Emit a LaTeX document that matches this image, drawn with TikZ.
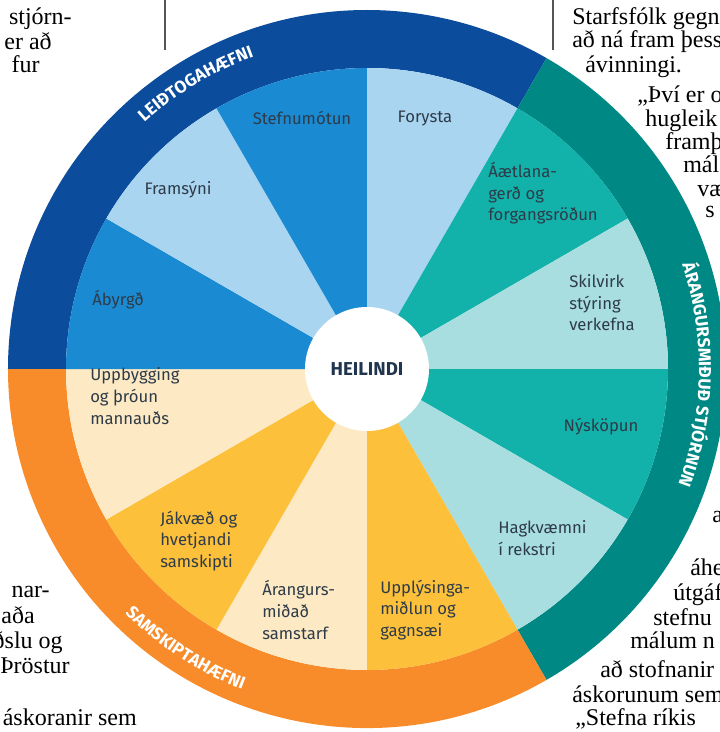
\documentclass[tikz,border=0pt]{standalone}
\usepackage{fontspec}
\setmainfont{Liberation Serif}
\newfontfamily\wheelfont{Fira Sans}
\usetikzlibrary{decorations.text}

\definecolor{ringblue}{HTML}{0B4C9C}
\definecolor{midblue}{HTML}{1A8AD2}
\definecolor{paleblue}{HTML}{AAD5F1}
\definecolor{ringteal}{HTML}{008884}
\definecolor{midteal}{HTML}{12B1AA}
\definecolor{paleteal}{HTML}{A8DEDF}
\definecolor{ringorange}{HTML}{F88B2A}
\definecolor{amber}{HTML}{FCC03B}
\definecolor{cream}{HTML}{FDEAC4}
\definecolor{labelink}{HTML}{2E3B48}
\definecolor{hubink}{HTML}{22354F}
\definecolor{rulegray}{HTML}{555555}

\newcommand\labelfont{\wheelfont\fontsize{12.5}{16.2}\selectfont}
\newcommand\ringfont{\wheelfont\bfseries\fontsize{13}{14}\selectfont\color{white}}
\newcommand\columnfont{\fontsize{18}{17.6}\selectfont}

\tikzset{x=0.75pt,y=0.75pt}
\tikzset{wedgelabel/.style={font=\labelfont, text=labelink, align=left, inner sep=0pt}}
\tikzset{column/.style={font=\columnfont, inner sep=0pt}}
\tikzset{ringlabel/.style={decorate, decoration={text along path, text align=center, text={#1}}}}

\begin{document}
\begin{tikzpicture}
    %%%% page frame
    \useasboundingbox (-367,-363) rectangle (353,369);
    \clip (-367,-363) rectangle (353,369);

    %%%% outer ring
    \fill[ringblue] (180:359) arc[start angle=180, end angle=60, radius=359] -- (60:301) arc[start angle=60, end angle=180, radius=301] -- cycle;
    \fill[ringteal] (60:359) arc[start angle=60, end angle=-60, radius=359] -- (-60:301) arc[start angle=-60, end angle=60, radius=301] -- cycle;
    \fill[ringorange] (-60:359) arc[start angle=-60, end angle=-180, radius=359] -- (-180:301) arc[start angle=-180, end angle=-60, radius=301] -- cycle;

    %%%% wedges
    \foreach \a/\col in {90/paleblue, 60/midteal, 30/paleteal, 0/midteal, -30/paleteal, -60/amber,
                         -90/cream, -120/amber, -150/cream, 180/midblue, 150/paleblue, 120/midblue}
      \fill[\col] (0,0) -- (\a:301) arc[start angle=\a, delta angle=-30, radius=301] -- cycle;

    %%%% hub
    \node[circle, fill=white, minimum size=93pt, inner sep=0pt, text=hubink,
          font=\wheelfont\bfseries\fontsize{14}{16}\selectfont] (hub) at (0,0) {HEILINDI};

    %%%% wedge labels
    \node[wedgelabel] (stefna) at (-65,251) {Stefnumótun};
    \node[wedgelabel] (forysta) at (58,250) {Forysta};
    \node[wedgelabel] (framsyni) at (-189,179) {Framsýni};
    \node[wedgelabel, anchor=west] (aetlun) at (121,175.5) {Áætlana-\\gerð og\\forgangsröðun};
    \node[wedgelabel, anchor=west] (styring) at (202,66) {Skilvirk\\stýring\\verkefna};
    \node[wedgelabel] (nysk) at (234,-58) {Nýsköpun};
    \node[wedgelabel, anchor=west] (hagkv) at (131,-169) {Hagkvæmni\\í rekstri};
    \node[wedgelabel, anchor=west] (uppl) at (13,-241) {Upplýsinga-\\miðlun og\\gagnsæi};
    \node[wedgelabel, anchor=west] (samst) at (-105,-241) {Árangurs-\\miðað\\samstarf};
    \node[wedgelabel, anchor=west] (jakv) at (-207,-172) {Jákvæð og\\hvetjandi\\samskipti};
    \node[wedgelabel, anchor=west] (mannaud) at (-277,-27) {Uppbygging\\og þróun\\mannauðs};
    \node[wedgelabel, anchor=west] (abyrgd) at (-275,69) {Ábyrgð};

    %%%% ring labels
    \path[ringlabel={|\ringfont|LEIÐTOGAHÆFNI}] (151:332) arc[start angle=151, end angle=91, radius=332];
    \path[ringlabel={|\ringfont|ÁRANGURSMIÐUÐ STJÓRNUN}] (29:332) arc[start angle=29, end angle=-31, radius=332];
    \path[ringlabel={|\ringfont|SAMSKIPTAHÆFNI}] (-153:344) arc[start angle=-153, end angle=-93, radius=344];

    %%%% column rules
    \draw[rulegray, line width=1.1pt] (-202,369) -- (-202,319);
    \draw[rulegray, line width=1.1pt] (186,369) -- (186,319);

    %%%% left column
    \node[column, anchor=base east] (l1) at (-295,344) {stjórn-};
    \node[column, anchor=base east] (l2) at (-315,319) {er að};
    \node[column, anchor=base east] (l3) at (-327,296) {fur};
    \node[column, anchor=base east] (l4) at (-317,-228) {nar-};
    \node[column, anchor=base east] (l5) at (-332,-254) {aða};
    \node[column, anchor=base east] (l6) at (-304,-279) {ðslu og};
    \node[column, anchor=base east] (l7) at (-297,-304) {Þröstur};
    \node[column, anchor=base east] (l8) at (-230,-356) {áskoranir sem};

    %%%% right column
    \node[column, anchor=base west] (r1) at (205,344) {Starfsfólk gegn};
    \node[column, anchor=base west] (r2) at (205,321) {að ná fram þess};
    \node[column, anchor=base west] (r3) at (218,296) {ávinningi.};
    \node[column, anchor=base west] (r4) at (270,266) {„Því er o};
    \node[column, anchor=base west] (r5) at (278,242) {hugleik};
    \node[column, anchor=base west] (r6) at (298,219) {framþ};
    \node[column, anchor=base west] (r7) at (316,196) {mál};
    \node[column, anchor=base west] (r8) at (330,172) {væ};
    \node[column, anchor=base west] (r9) at (338,151) {s};
    \node[column, anchor=base west] (r10) at (345,-153) {a};
    \node[column, anchor=base west] (r11) at (323,-206) {áhe};
    \node[column, anchor=base west] (r12) at (306,-231) {útgáf};
    \node[column, anchor=base west] (r13) at (286,-256) {stefnu};
    \node[column, anchor=base west] (r14) at (263,-279) {málum n};
    \node[column, anchor=base west] (r15) at (233,-308) {að stofnanir};
    \node[column, anchor=base west] (r16) at (205,-333) {áskorunum sem};
    \node[column, anchor=base west] (r17) at (208,-356) {„Stefna ríkis};
\end{tikzpicture}
\end{document}
